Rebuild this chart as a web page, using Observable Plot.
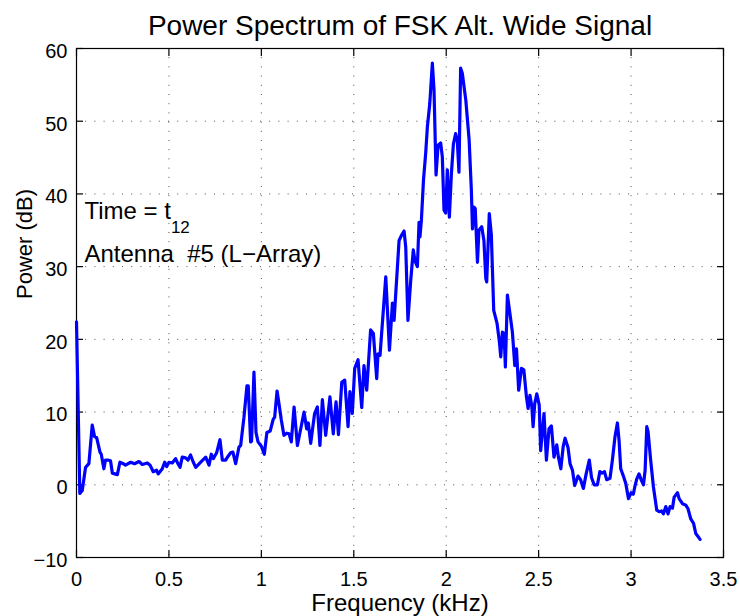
<!DOCTYPE html>
<html>
<head>
<meta charset="utf-8">
<script src="https://cdn.jsdelivr.net/npm/d3@7"></script>
<script src="https://cdn.jsdelivr.net/npm/@observablehq/plot@0.6"></script>
<style>
  html, body { margin: 0; padding: 0; background: #fff; }
  #chart svg { display: block; }
</style>
</head>
<body>
<div id="chart"></div>
<script>
const titleText = ["Power Spectrum of FSK Alt. Wide Signal"];
const xLabel = ["Frequency (kHz)"];
const yLabel = ["Power (dB)"];

const xTicks = [0, 0.5, 1, 1.5, 2, 2.5, 3, 3.5];
const xTickLabels = ["0", "0.5", "1", "1.5", "2", "2.5", "3", "3.5"];
const yTicks = [-10, 0, 10, 20, 30, 40, 50, 60];
const yTickLabels = ["\u221210", "0", "10", "20", "30", "40", "50", "60"];

const annoText = ["Time = t", "Antenna\u00a0 #5 (L\u2212Array)"];
const annoX = [0.043, 0.043];
const annoY = [36.5, 30.65];
const annoSub = "12";

const freq = [
  0.000, 0.018, 0.031, 0.049, 0.067, 0.085, 0.098, 0.109, 0.127, 0.134,
  0.148, 0.157, 0.170, 0.184, 0.194, 0.221, 0.235, 0.253, 0.265, 0.293,
  0.314, 0.338, 0.356, 0.383, 0.398, 0.415, 0.433, 0.442, 0.464, 0.477,
  0.488, 0.500, 0.518, 0.536, 0.549, 0.560, 0.572, 0.590, 0.603, 0.617,
  0.632, 0.645, 0.672, 0.699, 0.717, 0.729, 0.740, 0.758, 0.776, 0.789,
  0.807, 0.819, 0.834, 0.846, 0.861, 0.879, 0.888, 0.906, 0.922, 0.929,
  0.942, 0.947, 0.960, 0.971, 0.982, 1.000, 1.016, 1.030, 1.048, 1.064,
  1.072, 1.085, 1.095, 1.108, 1.122, 1.137, 1.150, 1.162, 1.177, 1.195,
  1.213, 1.231, 1.245, 1.254, 1.267, 1.288, 1.303, 1.317, 1.330, 1.348,
  1.371, 1.389, 1.404, 1.417, 1.435, 1.451, 1.469, 1.479, 1.492, 1.505,
  1.523, 1.543, 1.555, 1.570, 1.591, 1.606, 1.624, 1.631, 1.642, 1.673,
  1.693, 1.709, 1.718, 1.727, 1.745, 1.758, 1.772, 1.781, 1.793, 1.808,
  1.822, 1.831, 1.844, 1.853, 1.858, 1.866, 1.877, 1.889, 1.898, 1.911,
  1.925, 1.934, 1.945, 1.956, 1.970, 1.979, 1.988, 1.997, 2.006, 2.017,
  2.028, 2.039, 2.051, 2.060, 2.069, 2.078, 2.087, 2.106, 2.124, 2.136,
  2.142, 2.150, 2.157, 2.169, 2.177, 2.192, 2.204, 2.214, 2.219, 2.233,
  2.244, 2.257, 2.275, 2.288, 2.295, 2.304, 2.313, 2.320, 2.331, 2.345,
  2.358, 2.371, 2.380, 2.392, 2.407, 2.420, 2.434, 2.443, 2.453, 2.463,
  2.470, 2.479, 2.490, 2.503, 2.511, 2.529, 2.542, 2.556, 2.569, 2.583,
  2.598, 2.607, 2.620, 2.633, 2.643, 2.659, 2.670, 2.683, 2.695, 2.713,
  2.727, 2.742, 2.757, 2.774, 2.786, 2.800, 2.818, 2.831, 2.843, 2.856,
  2.868, 2.886, 2.899, 2.913, 2.926, 2.935, 2.944, 2.957, 2.971, 2.986,
  3.000, 3.012, 3.020, 3.031, 3.043, 3.056, 3.067, 3.076, 3.085, 3.092,
  3.106, 3.121, 3.139, 3.152, 3.165, 3.175, 3.188, 3.200, 3.211, 3.224,
  3.233, 3.251, 3.260, 3.278, 3.296, 3.308, 3.323, 3.338, 3.350, 3.362,
  3.373
];
const power = [
  22.4, -1.2, -0.8, 2.4, 2.9, 8.2, 6.6, 6.5, 4.5, 4.2,
  2.2, 3.4, 3.4, 3.3, 1.6, 1.4, 3.1, 2.9, 2.7, 3.1,
  2.9, 3.2, 2.8, 3.0, 2.7, 1.8, 2.0, 1.5, 2.2, 3.1,
  2.5, 3.1, 3.0, 3.6, 2.9, 2.4, 3.8, 3.7, 3.4, 4.1,
  3.1, 2.4, 3.1, 3.8, 2.7, 4.2, 3.6, 4.4, 6.2, 3.4,
  3.4, 3.9, 4.4, 4.5, 2.9, 5.2, 5.4, 9.3, 13.6, 13.6,
  5.9, 6.0, 15.5, 7.2, 5.9, 5.3, 4.2, 7.2, 7.4, 9.0,
  9.3, 12.9, 11.2, 8.9, 6.8, 7.1, 7.0, 5.9, 10.7, 5.4,
  7.7, 10.0, 7.7, 8.5, 5.7, 9.8, 10.7, 5.4, 11.7, 6.8,
  12.1, 7.0, 11.4, 6.9, 14.1, 14.4, 8.0, 12.8, 9.8, 16.0,
  17.2, 10.6, 16.4, 13.0, 21.3, 20.8, 14.6, 18.0, 17.8, 28.6,
  18.5, 25.0, 22.6, 26.3, 33.6, 34.3, 34.9, 32.7, 22.6, 28.1,
  32.3, 30.8, 30.0, 36.1, 34.1, 36.5, 41.9, 45.6, 49.2, 52.4,
  58.0, 54.3, 42.6, 46.7, 47.0, 45.1, 37.8, 37.4, 43.3, 36.8,
  42.8, 46.9, 48.3, 47.3, 43.0, 57.3, 56.6, 52.9, 47.4, 40.5,
  35.2, 38.2, 38.0, 30.6, 35.0, 35.5, 33.6, 28.4, 27.9, 37.3,
  34.4, 24.0, 22.2, 19.6, 17.6, 21.0, 20.8, 16.2, 26.1, 23.5,
  21.0, 16.4, 18.7, 13.0, 16.0, 15.8, 12.1, 10.5, 12.3, 10.8,
  8.0, 11.2, 12.5, 11.0, 4.7, 9.8, 3.4, 7.7, 8.1, 3.8,
  5.5, 3.8, 2.2, 5.3, 6.4, 5.1, 2.9, 2.0, -0.1, 1.2,
  0.7, -0.5, 1.5, 3.4, 1.0, 0.0, 0.0, 1.8, 1.6, 1.8,
  0.7, 0.9, 3.4, 6.6, 8.5, 6.1, 2.2, 1.3, 0.2, -1.9,
  -1.1, -1.3, -0.3, 0.8, 1.5, 0.6, 0.0, 2.0, 8.0, 7.3,
  3.4, -0.3, -3.5, -3.7, -3.6, -4.0, -3.0, -4.0, -3.0, -3.2,
  -1.7, -1.1, -1.9, -2.6, -2.8, -3.3, -4.7, -5.3, -6.7, -7.1,
  -7.5
];

const rows = freq.map((f, i) => ({f, p: power[i]}));
const annos = annoText.map((t, i) => ({t, x: annoX[i], y: annoY[i]}));

const xMin = xTicks[0], xMax = xTicks[xTicks.length - 1];
const yMin = yTicks[0], yMax = yTicks[yTicks.length - 1];
const tickLen = 7;

const gridStyle = {stroke: "#333", strokeOpacity: 0.85, strokeWidth: 1, strokeDasharray: "1,8.2"};

const chart = Plot.plot({
  width: 740,
  height: 616,
  marginLeft: 76,
  marginRight: 17,
  marginTop: 48,
  marginBottom: 59,
  style: {fontFamily: "'Liberation Sans', Arial, Helvetica, sans-serif", background: "#fff", color: "#000"},
  x: {domain: [xMin, xMax]},
  y: {domain: [yMin, yMax]},
  marks: [
    Plot.gridX(xTicks.slice(1, -1), gridStyle),
    Plot.gridY(yTicks.slice(1, -1), gridStyle),
    Plot.frame({stroke: "#000", strokeWidth: 1.2}),
    // axes: ticks shifted inward by their own length (MATLAB style)
    Plot.axisX(xTicks, {anchor: "bottom", tickSize: tickLen, dy: -tickLen, tickPadding: 14, fontSize: 20,
      strokeWidth: 1.2, tickFormat: d => xTickLabels[xTicks.indexOf(d)], label: null}),
    Plot.axisX(xTicks, {anchor: "top", tickSize: tickLen, dy: tickLen, strokeWidth: 1.2,
      tickFormat: () => "", label: null}),
    Plot.axisY(yTicks, {anchor: "left", tickSize: tickLen, dx: tickLen, tickPadding: 9, fontSize: 20,
      strokeWidth: 1.2, tickFormat: d => yTickLabels[yTicks.indexOf(d)], label: null}),
    Plot.axisY(yTicks, {anchor: "right", tickSize: tickLen, dx: -tickLen, strokeWidth: 1.2,
      tickFormat: () => "", label: null}),
    Plot.line(rows, {x: "f", y: "p", stroke: "#0000ff", strokeWidth: 3.2, strokeLinejoin: "round", strokeLinecap: "round"}),
    Plot.text(annos, {x: "x", y: "y", text: "t", textAnchor: "start", lineAnchor: "bottom", fontSize: 24, fill: "#000"}),
    Plot.text(titleText, {frameAnchor: "top", lineAnchor: "bottom", dy: -14, fontSize: 28, fill: "#000"}),
    Plot.text(xLabel, {frameAnchor: "bottom", lineAnchor: "bottom", dy: 53, fontSize: 24, fill: "#000"}),
    Plot.text(yLabel, {frameAnchor: "left", lineAnchor: "bottom", rotate: -90, dx: -45, dy: -4, fontSize: 22, fill: "#000"})
  ]
});

// y tick labels sit slightly below their ticks in the reference
chart.querySelectorAll("g[aria-label='y-axis tick label'] text").forEach(t => {
  t.setAttribute("dy", "3");
});

// subscript for "t_12"
chart.querySelectorAll("text").forEach(el => {
  if (el.textContent === annoText[0]) {
    const ts = document.createElementNS("http://www.w3.org/2000/svg", "tspan");
    ts.setAttribute("dy", "14");
    ts.setAttribute("font-size", "17");
    ts.textContent = annoSub;
    el.appendChild(ts);
  }
});

document.getElementById("chart").appendChild(chart);
</script>
</body>
</html>
